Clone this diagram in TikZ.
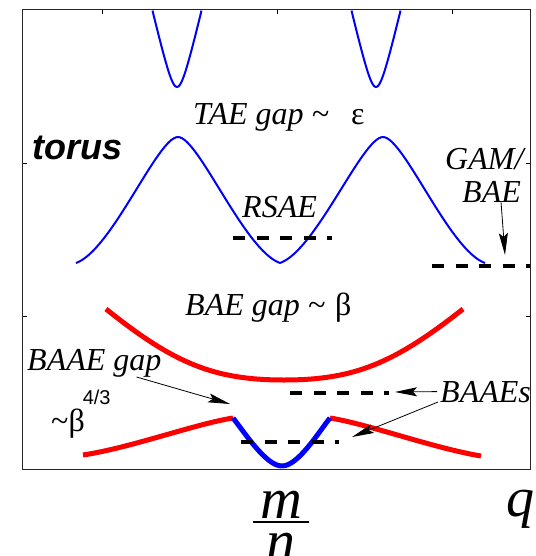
\documentclass[tikz,border=0pt]{standalone}
\usepackage{fontspec}
\setmainfont{Liberation Serif}
\setsansfont{Liberation Sans}
\usetikzlibrary{arrows.meta}
\definecolor{taeblue}{RGB}{0,0,255}
\definecolor{baered}{RGB}{255,0,0}

\begin{document}
\begin{tikzpicture}[x=1pt, y=-1pt,
    tae/.style={taeblue, line width=2pt},
    bae/.style={baered, line width=5pt},
    baae/.style={taeblue, line width=5pt},
    gapline/.style={line width=4.5pt, dash pattern=on 12pt off 11.5pt},
    lbl/.style={font=\fontsize{32}{36}\selectfont\itshape, inner sep=0pt, anchor=base west},
    ptr/.style={-{Stealth[length=22pt, width=9pt, inset=4pt]}, line width=0.8pt}]
        \useasboundingbox (0,0) rectangle (535,556);

        % frame and ticks
        \draw[line width=1pt, black!85] (22.7,10) rectangle (530,469);
        \foreach \tx in {102,277,452}
            \draw[line width=0.8pt] (\tx,10) -- ++(0,4);
        \foreach \ty in {163,316} {
            \draw[line width=0.8pt] (22.7,\ty) -- ++(4,0);
            \draw[line width=0.8pt] (530,\ty) -- ++(-4,0);
        }

        % TAE continuum, upper and lower branch
        \draw[tae] plot[domain=-24.5:24.5, samples=41] ({177+\x},{87-4.3*(sqrt(\x*\x+64)-8)});
        \draw[tae] plot[domain=-24.5:24.5, samples=41] ({376+\x},{87-4.3*(sqrt(\x*\x+64)-8)});
        \draw[tae] (76,263) .. controls (111.7,250.4) and (157.6,137) .. (178,137);
        \draw[tae] (178,137) .. controls (198.4,137) and (244.3,250.4) .. (280,263);
        \draw[tae] (280,263) .. controls (316,250.4) and (362.4,137) .. (383,137);
        \draw[tae] (383,137) .. controls (403.6,137) and (449.3,250.4) .. (485,263);

        % BAE continuum
        \draw[bae] (106,309) .. controls (174,363.5) and (214,380) .. (284,380);
        \draw[bae] (284,380) .. controls (354,380) and (394,363.5) .. (463,309);
        \draw[bae] (83,455) .. controls (130,448) and (195,424) .. (233,418);
        \draw[bae] (330,418) .. controls (368,424) and (433,448) .. (481,456);
        \draw[baae] (233,418) .. controls (245,433) and (266,466) .. (282,466);
        \draw[baae] (282,466) .. controls (298,466) and (318,433) .. (330,418);

        % discrete modes
        \draw[gapline] (233,238) -- (332,238);
        \draw[gapline] (432,266) -- (530,266);
        \draw[gapline] (290,393) -- (389,393);
        \draw[gapline] (241,442) -- (339,442);

        % labels
        \node[lbl] (taegap) at (193,125) {TAE gap \textasciitilde\hspace{22pt}\upshape ε};
        \node[lbl, font=\fontsize{36}{40}\selectfont\sffamily\bfseries\itshape] (torus) at (32,160) {torus};
        \node[lbl] (rsae) at (242,217) {RSAE};
        \node[lbl] (gam) at (445,170) {GAM/};
        \node[lbl] (bae) at (462,202) {BAE};
        \node[lbl] (baegap) at (185,315) {BAE gap \textasciitilde\hspace{10pt}\upshape β};
        \node[lbl] (baaegap) at (27,370) {BAAE gap};
        \node[lbl, font=\fontsize{32}{36}\selectfont] (scaling) at (51,431) {\textasciitilde β\hspace{-2pt}\raisebox{27pt}{\fontsize{20}{20}\selectfont\sffamily 4/3}};
        \node[lbl] (baaes) at (440,402) {BAAEs};

        % axis labels
        \node[inner sep=0pt, anchor=north, font=\fontsize{58}{58}\selectfont\itshape] (mn) at (281,491)
            {\vbox{\hbox to 56pt{\hss m\hss}\kern2pt\hrule height 2.2pt\kern10pt\hbox to 56pt{\hss n\hss}}};
        \node[lbl, font=\fontsize{56}{56}\selectfont\itshape] (q) at (506,516) {q};

        % pointers
        \coordinate (gamtip) at (505,255);
        \coordinate (baaegaptip) at (230,404);
        \coordinate (baaeuptip) at (395,392);
        \coordinate (baaelowtip) at (352,437);
        \draw[ptr] ([xshift=-20pt]bae.south east) -- (gamtip);
        \draw[ptr] ([xshift=-25pt]baaegap.south east) -- (baaegaptip);
        \draw[ptr] ([xshift=-3pt]baaes.west) -- (baaeuptip);
        \draw[ptr] ([xshift=-2pt]baaes.base west) -- (baaelowtip);
    \end{tikzpicture}
\end{document}
